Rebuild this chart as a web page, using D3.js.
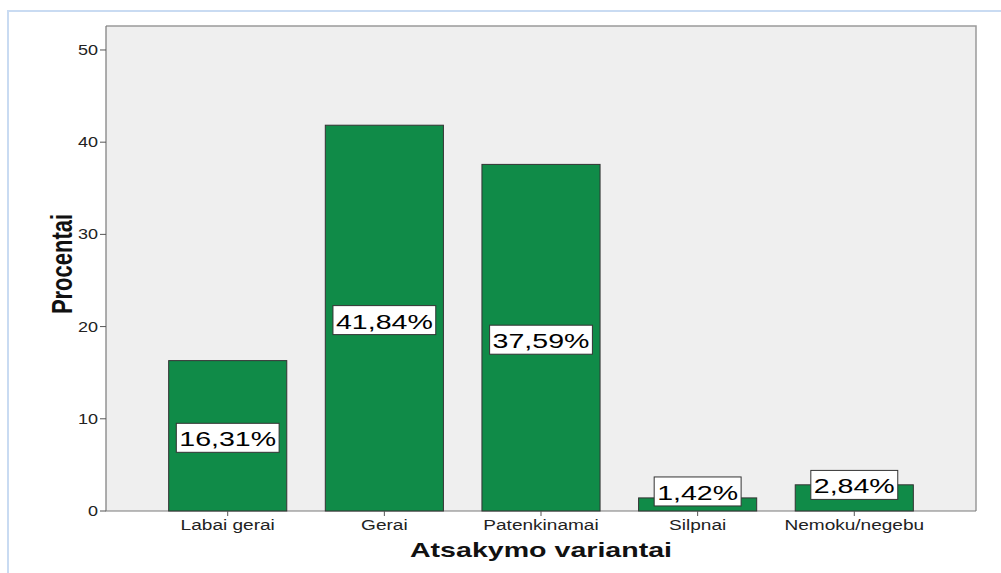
<!DOCTYPE html>
<html><head><meta charset="utf-8">
<script src="https://cdn.jsdelivr.net/npm/d3@7/dist/d3.min.js"></script>
<style>body{margin:0;background:#fff}svg{display:block}text{font-family:"Liberation Sans",Arial,sans-serif}</style>
</head><body><svg id="c" width="1001" height="573"></svg>
<script>
const categories = ["Labai gerai","Gerai","Patenkinamai","Silpnai","Nemoku/negebu"];
const values = [16.31, 41.84, 37.59, 1.42, 2.84];
const valueLabels = ["16,31%","41,84%","37,59%","1,42%","2,84%"];
const yTicks = [0,10,20,30,40,50];
const xTitle = "Atsakymo variantai";
const yTitle = "Procentai";

const SX = 1.36; // horizontal stretch of text as in the reference
const svg = d3.select("#c");
const L = 106, R = 976, T = 26, B = 511;

// outer frame
svg.append("path").attr("d","M8,573 V11 H1001").attr("fill","none").attr("stroke","#c9dbf2").attr("stroke-width",2);

const x = d3.scaleBand().domain(categories).range([L,R]).paddingInner(0.246).paddingOuter(0.4);
const y = d3.scaleLinear().domain([0,52.6]).range([B,T]);

svg.append("rect").attr("x",L).attr("y",T).attr("width",R-L).attr("height",B-T)
  .attr("fill","#efefef").attr("stroke","none");
// frame lines
svg.append("path").attr("d",`M${L},${T} H${R} V${B}`).attr("fill","none").attr("stroke","#9a9a9a").attr("stroke-width",1.5);
svg.append("path").attr("d",`M${L},${T} V${B} H${R}`).attr("fill","none").attr("stroke","#7a7a7a").attr("stroke-width",1.2);

// bars
svg.selectAll("rect.bar").data(values).join("rect").attr("class","bar")
  .attr("x",(d,i)=>x(categories[i])).attr("width",x.bandwidth())
  .attr("y",d=>y(d)).attr("height",d=>B-y(d))
  .attr("fill","#108b48").attr("stroke","#333").attr("stroke-width",1);

// y axis ticks
const yg = svg.append("g");
yTicks.forEach(t=>{
  yg.append("line").attr("x1",L-6).attr("x2",L).attr("y1",y(t)).attr("y2",y(t)).attr("stroke","#555");
  yg.append("text").attr("transform",`translate(${L-8},${y(t)+5}) scale(1.2,1)`).attr("text-anchor","end")
    .attr("font-size",15).attr("fill","#222").text(t);
});
// x axis ticks
categories.forEach(c=>{
  const cx = x(c)+x.bandwidth()/2;
  svg.append("line").attr("x1",cx).attr("x2",cx).attr("y1",B).attr("y2",B+5).attr("stroke","#555");
  svg.append("text").attr("transform",`translate(${cx},${B+19}) scale(${SX},1)`).attr("text-anchor","middle")
    .attr("font-size",14).attr("fill","#222").text(c);
});

// axis titles
svg.append("text").attr("transform",`translate(${(L+R)/2},557) scale(1.43,1)`).attr("text-anchor","middle")
  .attr("font-size",20).attr("font-weight","bold").attr("fill","#111").text(xTitle);
svg.append("text").attr("transform",`translate(72,264) rotate(-90) scale(1,1.3)`).attr("text-anchor","middle")
  .attr("font-size",22).attr("font-weight","bold").attr("fill","#111").text(yTitle);

// value labels
const boxH = 29;
values.forEach((v,i)=>{
  const cx = x(categories[i])+x.bandwidth()/2;
  const mid = (y(v)+B)/2;
  const cy = (B-y(v)) < boxH ? mid-13 : mid+2;
  const g = svg.append("g");
  const r = g.append("rect");
  const t = g.append("text").attr("transform",`translate(${cx},${cy+8.5}) scale(${SX},1)`).attr("text-anchor","middle")
    .attr("font-size",21).attr("fill","#000").text(valueLabels[i]);
  const w = t.node().getBBox().width*SX + 6;
  r.attr("x",cx-w/2).attr("y",cy-boxH/2).attr("width",w).attr("height",boxH)
    .attr("fill","#fff").attr("stroke","#333").attr("stroke-width",1);
});
</script></body></html>
